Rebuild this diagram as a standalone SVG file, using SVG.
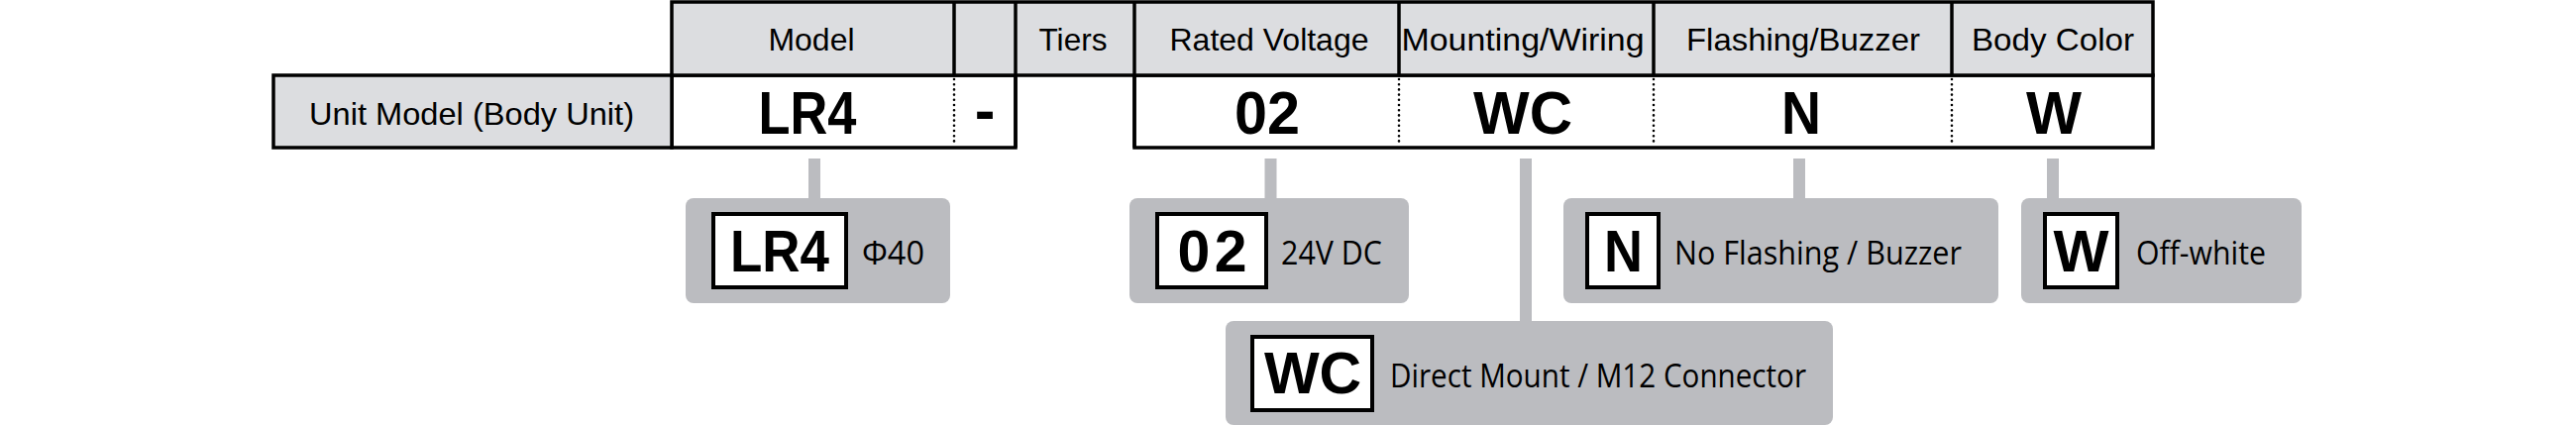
<svg xmlns="http://www.w3.org/2000/svg" width="2600" height="430" viewBox="0 0 2600 430">
<style>
.hd{fill:#dcdde0;stroke:#000;stroke-width:3.5}
.wt{fill:#fff;stroke:#000;stroke-width:3.5}
.sep{stroke:#000;stroke-width:3.5}
.dot{stroke:#000;stroke-width:2.6;stroke-linecap:round;stroke-dasharray:0 5.2;fill:none}
.ht{font-family:"Liberation Sans",Arial,sans-serif;font-size:32px;fill:#000;text-anchor:middle}
.code{font-family:"Liberation Sans",Arial,sans-serif;font-weight:bold;font-size:62px;fill:#000;text-anchor:middle}
.bcode{font-family:"Liberation Sans",Arial,sans-serif;font-weight:bold;font-size:59px;fill:#000;text-anchor:middle}
.opt{fill:#bbbcc0}
.ibox{fill:#fff;stroke:#000;stroke-width:4}
.desc{font-family:"Open Sans","Liberation Sans",sans-serif;font-size:33px;fill:#000}
.stem{fill:#bbbcc0}
</style>
<rect width="2600" height="430" fill="#fff"/>

<g id="code-row">
  <rect class="wt" x="678" y="76" width="347" height="73"/>
  <rect class="wt" x="1145" y="76" width="1028" height="73"/>
  <line class="dot" x1="963" y1="80" x2="963" y2="146"/>
  <line class="dot" x1="1412" y1="80" x2="1412" y2="146"/>
  <line class="dot" x1="1669" y1="80" x2="1669" y2="146"/>
  <line class="dot" x1="1970" y1="80" x2="1970" y2="146"/>
  <text class="code" x="815" y="135" textLength="99" lengthAdjust="spacingAndGlyphs">LR4</text>
  <text class="code" x="994" y="132">-</text>
  <text class="code" x="1279" y="135" textLength="66" lengthAdjust="spacingAndGlyphs">02</text>
  <text class="code" x="1537" y="135" textLength="100" lengthAdjust="spacingAndGlyphs">WC</text>
  <text class="code" x="1818" y="135" textLength="40" lengthAdjust="spacingAndGlyphs">N</text>
  <text class="code" x="2073" y="135" textLength="56" lengthAdjust="spacingAndGlyphs">W</text>
</g>

<g id="unit-model">
  <rect class="hd" x="276" y="76" width="402" height="73"/>
  <text class="ht" x="476" y="126" textLength="328" lengthAdjust="spacingAndGlyphs">Unit Model (Body Unit)</text>
</g>

<g id="table-header">
  <rect class="hd" x="678" y="2" width="1495" height="74"/>
  <line class="sep" x1="963" y1="2" x2="963" y2="76"/>
  <line class="sep" x1="1025" y1="2" x2="1025" y2="149"/>
  <line class="sep" x1="1145" y1="2" x2="1145" y2="149"/>
  <line class="sep" x1="1412" y1="2" x2="1412" y2="76"/>
  <line class="sep" x1="1669" y1="2" x2="1669" y2="76"/>
  <line class="sep" x1="1970" y1="2" x2="1970" y2="76"/>
  <text class="ht" x="819" y="51" textLength="87" lengthAdjust="spacingAndGlyphs">Model</text>
  <text class="ht" x="1083" y="51" textLength="69" lengthAdjust="spacingAndGlyphs">Tiers</text>
  <text class="ht" x="1281" y="51" textLength="201" lengthAdjust="spacingAndGlyphs">Rated Voltage</text>
  <text class="ht" x="1537" y="51" textLength="245" lengthAdjust="spacingAndGlyphs">Mounting/Wiring</text>
  <text class="ht" x="1820" y="51" textLength="236" lengthAdjust="spacingAndGlyphs">Flashing/Buzzer</text>
  <text class="ht" x="2072" y="51" textLength="164" lengthAdjust="spacingAndGlyphs">Body Color</text>
</g>

<g id="connectors">
  <rect class="stem" x="816" y="160" width="12" height="40"/>
  <rect class="stem" x="1276.5" y="160" width="12" height="40"/>
  <rect class="stem" x="1534" y="160" width="12" height="164"/>
  <rect class="stem" x="1810" y="160" width="12" height="40"/>
  <rect class="stem" x="2066" y="160" width="12" height="40"/>
</g>

<g id="opt-LR4">
  <rect class="opt" x="692" y="200" width="267" height="106" rx="8"/>
  <rect class="ibox" x="720" y="216" width="134" height="74"/>
  <text class="bcode" x="787" y="274" textLength="100" lengthAdjust="spacingAndGlyphs">LR4</text>
  <text class="desc" x="870" y="267" textLength="63" lengthAdjust="spacingAndGlyphs">Φ40</text>
</g>

<g id="opt-02">
  <rect class="opt" x="1140" y="200" width="282" height="106" rx="8"/>
  <rect class="ibox" x="1168" y="216" width="110" height="74"/>
  <text class="bcode" x="1223.5" y="274" textLength="70" lengthAdjust="spacing">02</text>
  <text class="desc" x="1293" y="267" textLength="102" lengthAdjust="spacingAndGlyphs">24V DC</text>
</g>

<g id="opt-WC">
  <rect class="opt" x="1237" y="324" width="613" height="105" rx="8"/>
  <rect class="ibox" x="1264" y="340" width="121" height="74"/>
  <text class="bcode" x="1325" y="397" textLength="98" lengthAdjust="spacing">WC</text>
  <text class="desc" x="1403" y="391" textLength="420" lengthAdjust="spacingAndGlyphs">Direct Mount / M12 Connector</text>
</g>

<g id="opt-N">
  <rect class="opt" x="1578" y="200" width="439" height="106" rx="8"/>
  <rect class="ibox" x="1602" y="216" width="72" height="74"/>
  <text class="bcode" x="1638.5" y="274" textLength="39" lengthAdjust="spacingAndGlyphs">N</text>
  <text class="desc" x="1690" y="267" textLength="290" lengthAdjust="spacingAndGlyphs">No Flashing / Buzzer</text>
</g>

<g id="opt-W">
  <rect class="opt" x="2040" y="200" width="283" height="106" rx="8"/>
  <rect class="ibox" x="2064" y="216" width="73" height="74"/>
  <text class="bcode" x="2100.5" y="274" textLength="56" lengthAdjust="spacingAndGlyphs">W</text>
  <text class="desc" x="2156" y="267" textLength="131" lengthAdjust="spacingAndGlyphs">Off-white</text>
</g>
</svg>
